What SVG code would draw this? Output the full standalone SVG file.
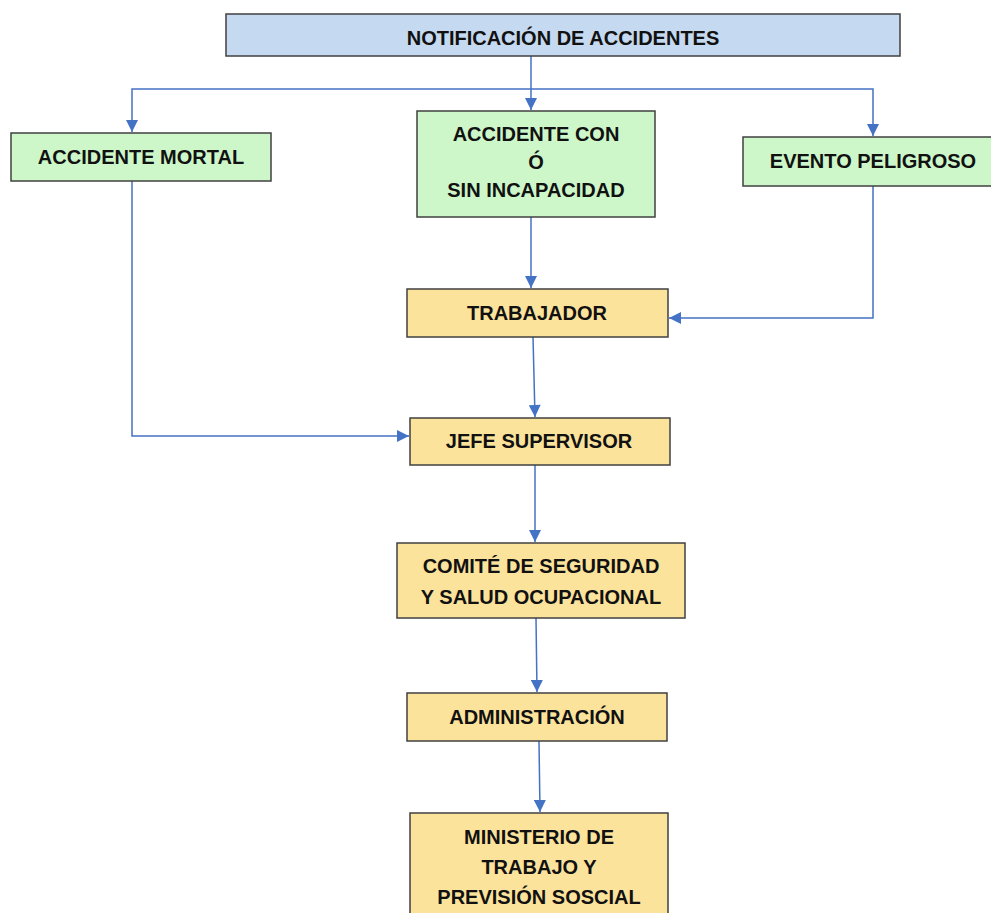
<svg xmlns="http://www.w3.org/2000/svg" width="991" height="913" viewBox="0 0 991 913">
<defs>
<style>
.box{stroke:#404040;stroke-width:1.5}
.blue{fill:#C5D9F0}
.green{fill:#CDF7C9}
.yellow{fill:#FCE39C}
text{font-family:"Liberation Sans",Arial,sans-serif;font-weight:bold;font-size:20px;fill:#111111;text-anchor:middle}
.conn{fill:none;stroke:#4472C4;stroke-width:1.5}
</style>
<marker id="arr" viewBox="0 0 10 10" refX="10" refY="5" markerWidth="13" markerHeight="12" markerUnits="userSpaceOnUse" orient="auto">
<path d="M0,0 L10,5 L0,10 z" fill="#4472C4"/>
</marker>
</defs>
<rect width="991" height="913" fill="#ffffff"/>
<g id="connectors">
<path class="conn" d="M531,56 L531,110" marker-end="url(#arr)"/>
<path class="conn" d="M531,89 L132,89 L132,132" marker-end="url(#arr)"/>
<path class="conn" d="M531,89 L873,89 L873,136" marker-end="url(#arr)"/>
<path class="conn" d="M531,217 L531,288" marker-end="url(#arr)"/>
<path class="conn" d="M873,186 L873,318 L669,318" marker-end="url(#arr)"/>
<path class="conn" d="M533,337 L535,417" marker-end="url(#arr)"/>
<path class="conn" d="M132,181 L132,436 L409,436" marker-end="url(#arr)"/>
<path class="conn" d="M535,465 L535,542" marker-end="url(#arr)"/>
<path class="conn" d="M536,618 L537,692" marker-end="url(#arr)"/>
<path class="conn" d="M539,741 L540,812" marker-end="url(#arr)"/>
</g>
<g id="n-notificacion">
<rect class="box blue" x="226" y="14" width="674" height="42"/>
<text x="563" y="45">NOTIFICACIÓN DE ACCIDENTES</text>
</g>
<g id="n-mortal">
<rect class="box green" x="11" y="133" width="260" height="48"/>
<text x="141" y="164">ACCIDENTE MORTAL</text>
</g>
<g id="n-con-sin">
<rect class="box green" x="417" y="111" width="238" height="106"/>
<text x="536" y="141">ACCIDENTE CON</text>
<text x="536" y="169">Ó</text>
<text x="536" y="197">SIN INCAPACIDAD</text>
</g>
<g id="n-evento">
<rect class="box green" x="743" y="137" width="260" height="49"/>
<text x="873" y="168">EVENTO PELIGROSO</text>
</g>
<g id="n-trabajador">
<rect class="box yellow" x="407" y="289" width="261" height="48"/>
<text x="537" y="320">TRABAJADOR</text>
</g>
<g id="n-jefe">
<rect class="box yellow" x="410" y="418" width="260" height="47"/>
<text x="539" y="448">JEFE SUPERVISOR</text>
</g>
<g id="n-comite">
<rect class="box yellow" x="397" y="543" width="288" height="75"/>
<text x="541" y="573">COMITÉ DE SEGURIDAD</text>
<text x="541" y="604">Y SALUD OCUPACIONAL</text>
</g>
<g id="n-admin">
<rect class="box yellow" x="407" y="693" width="260" height="48"/>
<text x="537" y="724">ADMINISTRACIÓN</text>
</g>
<g id="n-ministerio">
<rect class="box yellow" x="410" y="813" width="258" height="110"/>
<text x="539" y="844">MINISTERIO DE</text>
<text x="539" y="874">TRABAJO Y</text>
<text x="539" y="904">PREVISIÓN SOSCIAL</text>
</g>
</svg>
